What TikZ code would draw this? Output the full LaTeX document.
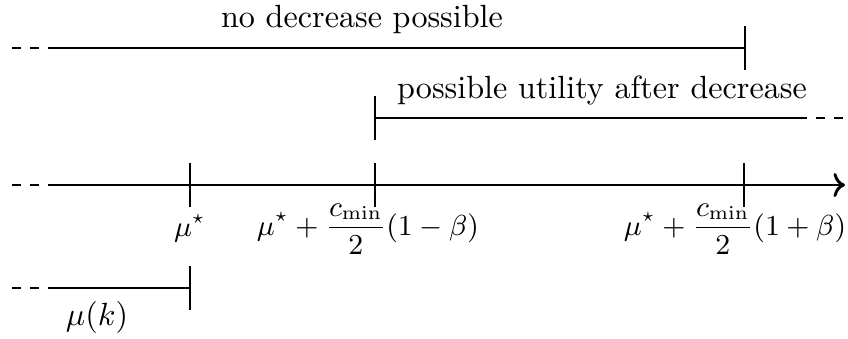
\documentclass[tikz,border=0pt]{standalone}
\usetikzlibrary{arrows.meta}
\begin{document}
\begin{tikzpicture}[x=0.3111pt,y=-0.3111pt,
  ln/.style={line width=0.9pt},
  dsh/.style={line width=0.9pt, dash pattern=on 2.8pt off 2.8pt},
  lbl/.style={inner sep=0pt, anchor=base},
  albl/.style={inner sep=0pt, anchor=base, font=\small}]
\useasboundingbox (0,0) rectangle (848,338);
% top line: no decrease possible
\coordinate (t0) at (12,48); \coordinate (t1) at (48,48); \coordinate (t2) at (745,48);
\coordinate (t2a) at (745,26); \coordinate (t2b) at (745,70);
\draw[dsh] (t0) -- (t1);
\draw[ln] (t1) -- (t2);
\draw[ln] (t2a) -- (t2b);
\node[lbl] (tl) at (362,27) {no decrease possible};
% second line: possible utility after decrease
\coordinate (s0) at (375,118); \coordinate (s1) at (807,118);
\coordinate (s2) at (816,118); \coordinate (s3) at (845,118);
\coordinate (s0a) at (375,96); \coordinate (s0b) at (375,140);
\draw[ln] (s0) -- (s1);
\draw[dsh] (s2) -- (s3);
\draw[ln] (s0a) -- (s0b);
\node[lbl] (sl) at (602,98) {possible utility after decrease};
% axis
\coordinate (a0) at (12,185); \coordinate (a1) at (48,185); \coordinate (a2) at (845,185);
\draw[dsh] (a0) -- (a1);
\draw[ln,->] (a1) -- (a2);
\coordinate (k1a) at (190,163); \coordinate (k1b) at (190,207);
\coordinate (k2a) at (375,163); \coordinate (k2b) at (375,207);
\coordinate (k3a) at (744,163); \coordinate (k3b) at (744,207);
\draw[ln] (k1a) -- (k1b);
\draw[ln] (k2a) -- (k2b);
\draw[ln] (k3a) -- (k3b);
\node[albl] (l1) at (190,236) {$\mu^\star$};
\node[albl] (l2) at (368,235) {$\displaystyle\mu^\star + \frac{c_{\min}}{2}(1-\beta)$};
\node[albl] (l3) at (735,235) {$\displaystyle\mu^\star + \frac{c_{\min}}{2}(1+\beta)$};
% bottom line: mu(k)
\coordinate (b0) at (12,288); \coordinate (b1) at (48,288); \coordinate (b2) at (190,288);
\coordinate (b2a) at (190,266); \coordinate (b2b) at (190,310);
\draw[dsh] (b0) -- (b1);
\draw[ln] (b1) -- (b2);
\draw[ln] (b2a) -- (b2b);
\node[lbl] (bl) at (97,325) {$\mu(k)$};
\end{tikzpicture}
\end{document}
